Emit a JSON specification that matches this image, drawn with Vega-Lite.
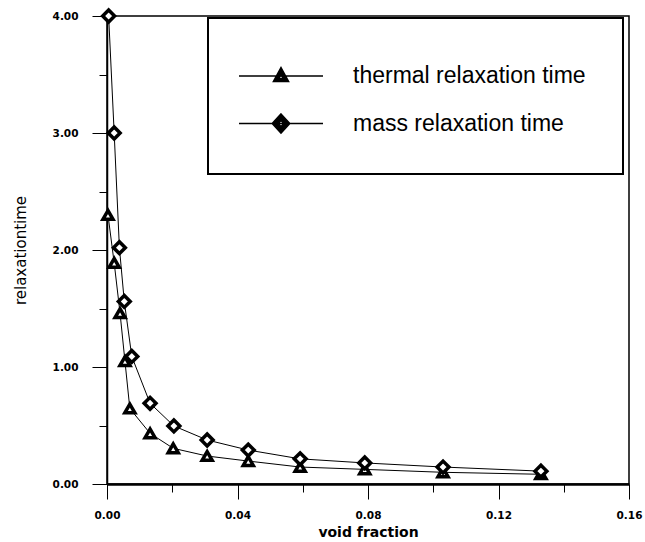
{
  "$schema": "https://vega.github.io/schema/vega-lite/v6.json",
  "width": 522,
  "height": 468,
  "autosize": "none",
  "padding": {"left": 107, "top": 16, "right": 16, "bottom": 58},
  "background": "white",
  "config": {
    "view": {"stroke": "black", "strokeWidth": 1.5},
    "axis": {
      "grid": false,
      "labelFlush": false,
      "domainColor": "black",
      "tickColor": "black",
      "labelColor": "black",
      "titleColor": "black",
      "labelFont": "DejaVu Sans",
      "labelFontSize": 10.5,
      "labelFontWeight": "bold",
      "titleFont": "DejaVu Sans"
    }
  },
  "data": {
    "values": [
      {"series": "thermal relaxation time", "vf": 0.0003, "rt": 2.30},
      {"series": "thermal relaxation time", "vf": 0.0022, "rt": 1.89},
      {"series": "thermal relaxation time", "vf": 0.0040, "rt": 1.46},
      {"series": "thermal relaxation time", "vf": 0.0055, "rt": 1.05},
      {"series": "thermal relaxation time", "vf": 0.0070, "rt": 0.645},
      {"series": "thermal relaxation time", "vf": 0.0132, "rt": 0.433},
      {"series": "thermal relaxation time", "vf": 0.0203, "rt": 0.305},
      {"series": "thermal relaxation time", "vf": 0.0307, "rt": 0.239},
      {"series": "thermal relaxation time", "vf": 0.0433, "rt": 0.196},
      {"series": "thermal relaxation time", "vf": 0.0592, "rt": 0.145},
      {"series": "thermal relaxation time", "vf": 0.0790, "rt": 0.125},
      {"series": "thermal relaxation time", "vf": 0.1030, "rt": 0.100},
      {"series": "thermal relaxation time", "vf": 0.1330, "rt": 0.083},
      {"series": "mass relaxation time", "vf": 0.0005, "rt": 4.00},
      {"series": "mass relaxation time", "vf": 0.0022, "rt": 3.00},
      {"series": "mass relaxation time", "vf": 0.0038, "rt": 2.02},
      {"series": "mass relaxation time", "vf": 0.0053, "rt": 1.56},
      {"series": "mass relaxation time", "vf": 0.0076, "rt": 1.09},
      {"series": "mass relaxation time", "vf": 0.0132, "rt": 0.69},
      {"series": "mass relaxation time", "vf": 0.0205, "rt": 0.496},
      {"series": "mass relaxation time", "vf": 0.0307, "rt": 0.376},
      {"series": "mass relaxation time", "vf": 0.0433, "rt": 0.29},
      {"series": "mass relaxation time", "vf": 0.0592, "rt": 0.215},
      {"series": "mass relaxation time", "vf": 0.0790, "rt": 0.18},
      {"series": "mass relaxation time", "vf": 0.1030, "rt": 0.145},
      {"series": "mass relaxation time", "vf": 0.1330, "rt": 0.11}
    ]
  },
  "layer": [
    {
      "mark": {"type": "line", "strokeWidth": 1, "color": "black"},
      "encoding": {
        "x": {
          "field": "vf", "type": "quantitative",
          "scale": {"domain": [0, 0.16], "nice": false, "zero": false},
          "axis": {"orient": "bottom", "values": [0.02, 0.06, 0.1, 0.14], "labels": false, "tickSize": 8, "domain": false, "title": null}
        },
        "y": {
          "field": "rt", "type": "quantitative",
          "scale": {"domain": [0, 4], "nice": false},
          "axis": {"orient": "left", "values": [0.5, 1.5, 2.5, 3.5], "labels": false, "tickSize": 8, "domain": false, "title": null}
        },
        "order": {"field": "vf", "type": "quantitative"},
        "color": {
          "field": "series", "type": "nominal",
          "scale": {"domain": ["thermal relaxation time", "mass relaxation time"], "range": ["black", "black"]},
          "legend": {
            "orient": "none",
            "legendX": 101,
            "legendY": 2,
            "title": null,
            "symbolSize": 1600,
            "labelOffset": 66,
            "labelFont": "Liberation Sans",
            "labelFontSize": 23,
            "labelColor": "black",
            "labelLimit": 400,
            "rowPadding": 14.5,
            "padding": 37,
            "strokeColor": "black",
            "fillColor": "white",
            "encode": {
              "symbols": {
                "update": {
                  "shape": {"signal": "datum.value === 'thermal relaxation time' ? 'M-1.35,0H0.75H2.85M0.75,-0.42L1.13,0.28H0.37ZM0.75,-0.08L0.65,0.14H0.85Z' : 'M-1.35,0H0.75H2.85M0.75,-0.48L1.19,0L0.75,0.48L0.31,0ZM0.75,-0.15L0.61,0L0.75,0.15L0.89,0Z'"},
                  "fill": {"value": "black"},
                  "stroke": {"value": "black"},
                  "strokeWidth": {"value": 1.5}
                }
              },
              "legend": {"update": {"strokeWidth": {"value": 2}}}
            }
          }
        }
      }
    },
    {
      "transform": [{"filter": "datum.series === 'thermal relaxation time'"}],
      "mark": {"type": "point", "shape": "triangle-up", "filled": true, "fill": "white", "stroke": "black", "strokeWidth": 3.5, "size": 100, "opacity": 1},
      "encoding": {
        "x": {
          "field": "vf", "type": "quantitative",
          "scale": {"domain": [0, 0.16], "nice": false, "zero": false},
          "axis": {"orient": "bottom", "values": [0, 0.04, 0.08, 0.12, 0.16], "format": ".2f", "tickSize": 15, "labelPadding": 11, "domainWidth": 2.5, "title": "void fraction", "titleFontSize": 14, "titleFontWeight": "bold", "titlePadding": 5}
        },
        "y": {
          "field": "rt", "type": "quantitative",
          "scale": {"domain": [0, 4], "nice": false},
          "axis": {"orient": "left", "values": [0, 1, 2, 3, 4], "format": ".2f", "tickSize": 15, "labelPadding": 14, "domainWidth": 1.5, "title": "relaxationtime", "titleFontSize": 15, "titleFontWeight": "normal", "titlePadding": 24}
        }
      }
    },
    {
      "transform": [{"filter": "datum.series === 'mass relaxation time'"}],
      "mark": {"type": "point", "shape": "diamond", "filled": true, "fill": "white", "stroke": "black", "strokeWidth": 3.5, "size": 140, "opacity": 1},
      "encoding": {
        "x": {"field": "vf", "type": "quantitative", "scale": {"domain": [0, 0.16], "nice": false, "zero": false}, "axis": null},
        "y": {"field": "rt", "type": "quantitative", "scale": {"domain": [0, 4], "nice": false}, "axis": null}
      }
    }
  ],
  "resolve": {"axis": {"x": "independent", "y": "independent"}}
}
